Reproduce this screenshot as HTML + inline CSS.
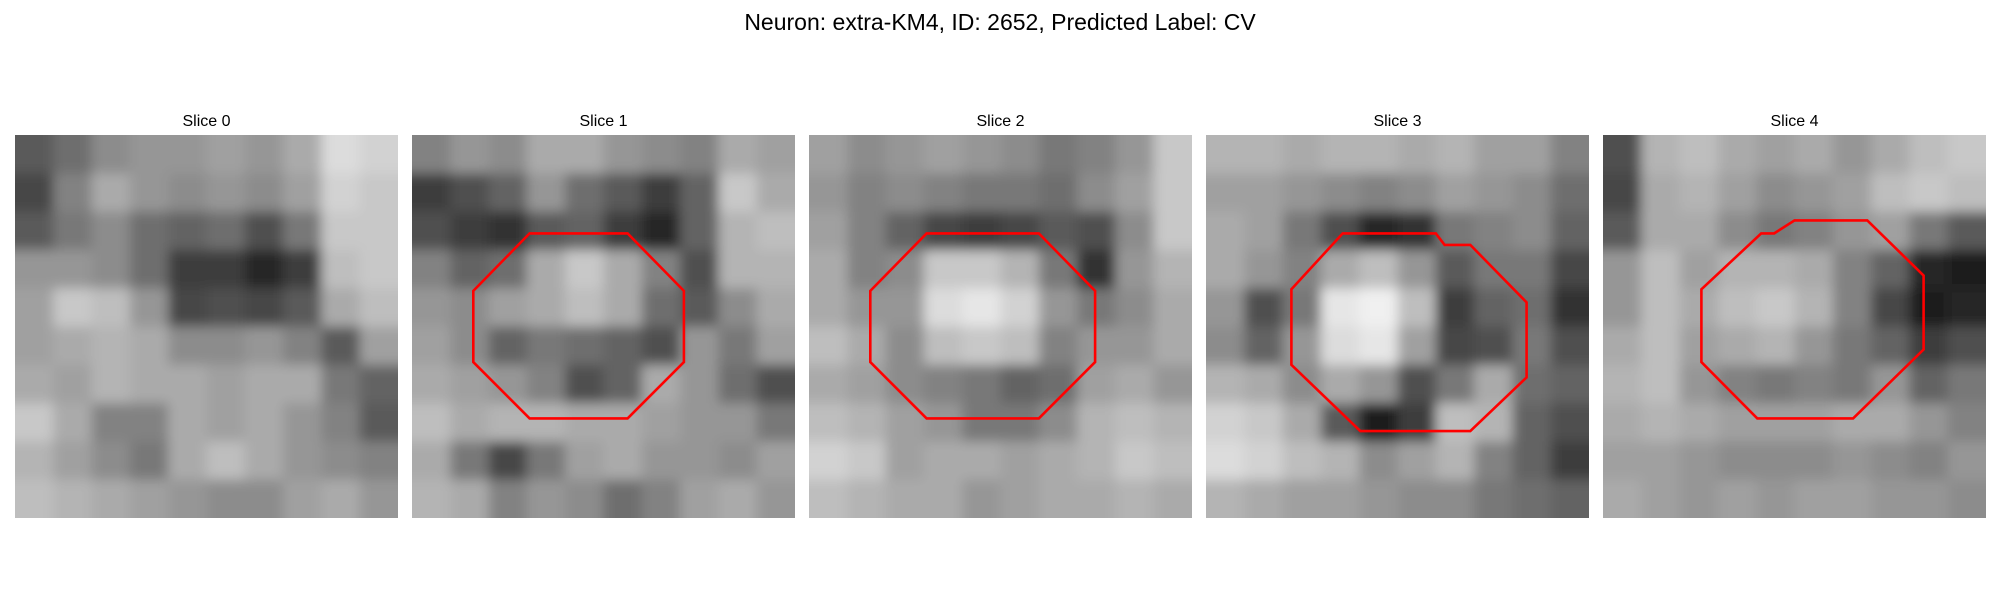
<!DOCTYPE html>
<html><head><meta charset="utf-8"><style>
html,body{margin:0;padding:0;background:#fff;width:2000px;height:600px;overflow:hidden}
svg{display:block;font-family:"Liberation Sans","DejaVu Sans",sans-serif}
</style></head><body>
<svg id="fig" width="2000" height="600" viewBox="0 0 2000 600">
<defs id="defs">
<filter id="bl" x="-0.2" y="-0.2" width="1.4" height="1.4"><feGaussianBlur stdDeviation="6"/></filter>
</defs>
<text x="1000" y="30" text-anchor="middle" font-size="23" fill="#000">Neuron: extra-KM4, ID: 2652, Predicted Label: CV</text>
<g id="panels"></g>
</svg>
<script>
const sliceTitles = ["Slice 0","Slice 1","Slice 2","Slice 3","Slice 4"];
const grid0 = [
[90,110,140,150,150,160,150,170,220,210],[70,130,170,150,140,150,140,160,210,200],[90,120,140,110,100,110,80,120,200,200],[150,150,140,110,60,60,40,60,190,200],[160,200,190,150,70,80,70,90,170,190],[160,170,180,170,140,140,150,130,90,160],[170,160,180,170,170,160,170,170,120,100],[200,170,130,130,170,160,170,150,130,90],[180,160,140,120,170,190,170,150,140,130],[190,180,170,160,150,140,140,160,170,150]];
const grid1 = [
[130,150,140,170,170,150,140,130,170,160],[60,80,100,150,110,90,60,100,200,170],[80,60,50,90,100,60,40,100,180,190],[130,100,110,170,200,170,130,80,180,180],[150,140,160,170,190,170,110,90,140,170],[160,140,100,120,110,100,80,150,120,160],[170,160,150,130,80,100,170,150,110,80],[190,170,180,180,170,170,160,150,150,120],[170,120,70,120,160,170,150,150,140,160],[180,170,130,150,140,110,130,160,170,150]];
const grid2 = [
[160,140,150,160,150,140,120,130,150,200],[150,130,140,130,120,120,110,140,160,200],[160,130,100,70,60,70,90,80,140,200],[170,130,140,200,200,180,120,50,150,180],[170,150,150,220,230,210,150,120,140,170],[190,170,140,190,200,190,130,150,150,170],[170,160,140,130,120,100,110,160,170,150],[190,180,160,150,120,120,140,180,190,180],[210,200,160,170,170,160,170,180,200,190],[190,180,170,170,150,160,170,170,180,170]];
const grid3 = [
[180,180,170,180,180,170,180,160,160,130],[160,160,150,140,130,140,160,150,140,110],[170,160,120,80,40,50,120,130,140,100],[170,150,130,170,190,150,90,120,120,70],[150,80,120,230,240,190,60,100,110,50],[140,100,150,220,230,160,70,80,120,80],[180,170,140,170,150,80,120,170,110,100],[210,200,170,90,30,60,190,180,100,80],[220,210,190,180,140,160,180,130,100,60],[180,170,160,160,150,140,140,120,110,100]];
const grid4 = [
[80,180,190,170,160,170,150,170,190,200],[70,170,180,160,140,150,160,190,200,190],[90,170,170,140,120,130,150,160,120,90],[150,190,160,180,180,170,130,100,40,30],[150,190,170,190,200,180,130,70,30,40],[170,190,160,170,180,150,120,100,60,80],[180,190,150,130,120,130,120,150,100,120],[170,180,170,160,160,160,170,170,150,130],[160,160,150,140,140,140,150,140,130,150],[170,160,150,160,150,160,160,150,150,140]];
const grids = [grid0,grid1,grid2,grid3,grid4];
const roi1 = [[.307,.257],[.563,.257],[.71,.407],[.71,.593],[.563,.74],[.307,.74],[.16,.593],[.16,.407]];
const roi2 = [[.307,.257],[.6,.257],[.747,.407],[.747,.593],[.6,.74],[.307,.74],[.16,.593],[.16,.407]];
const roi3 = [[.357,.257],[.6,.257],[.623,.287],[.69,.287],[.837,.437],[.837,.633],[.69,.773],[.403,.773],[.223,.6],[.223,.403]];
const roi4 = [[.413,.257],[.447,.257],[.5,.223],[.69,.223],[.837,.367],[.837,.56],[.653,.74],[.403,.74],[.257,.593],[.257,.403]];
const rois = [null,roi1,roi2,roi3,roi4];

const NS="http://www.w3.org/2000/svg";
const g=document.getElementById('panels');
const defs=document.getElementById('defs');
const X0=15, STEP=397, Y0=135, S=383, EXT=30;
grids.forEach((grid,p)=>{
  const px=X0+p*STEP;
  const cp=document.createElementNS(NS,'clipPath');
  cp.setAttribute('id','clip'+p);
  const cr=document.createElementNS(NS,'rect');
  cr.setAttribute('x',px);cr.setAttribute('y',Y0);cr.setAttribute('width',S);cr.setAttribute('height',S);
  cp.appendChild(cr);defs.appendChild(cp);
  const pg=document.createElementNS(NS,'g');
  
  
  const t=document.createElementNS(NS,'text');
  t.setAttribute('x',px+S/2);t.setAttribute('y',Y0-9);
  t.setAttribute('text-anchor','middle');t.setAttribute('font-size','16');
  t.textContent=sliceTitles[p];
  
  
  pg.appendChild(t);
  const clipG=document.createElementNS(NS,'g');
  clipG.setAttribute('clip-path','url(#clip'+p+')');
  const img=document.createElementNS(NS,'g');
  img.setAttribute('filter','url(#bl)');
  
  
  const n=grid.length, c=S/n;
  grid.forEach((row,r)=>row.forEach((v,k)=>{
    let x=px+k*c, y=Y0+r*c, w=c+0.5, h=c+0.5;
    if(k===0){x-=EXT;w+=EXT;}
    if(k===n-1){w+=EXT;}
    if(r===0){y-=EXT;h+=EXT;}
    if(r===n-1){h+=EXT;}
    const rc=document.createElementNS(NS,'rect');
    rc.setAttribute('x',x);rc.setAttribute('y',y);
    rc.setAttribute('width',w);rc.setAttribute('height',h);
    rc.setAttribute('fill',`rgb(${v},${v},${v})`);
    
    
    img.appendChild(rc);
  }));
  clipG.appendChild(img);
  pg.appendChild(clipG);
  const roi=rois[p];
  if(roi){
    const pl=document.createElementNS(NS,'polygon');
    pl.setAttribute('points',roi.map(([fx,fy])=>(px+fx*S).toFixed(1)+','+(Y0+fy*S).toFixed(1)).join(' '));
    pl.setAttribute('fill','none');pl.setAttribute('stroke','#f00');pl.setAttribute('stroke-width','2.6');
    
    
    pg.appendChild(pl);
  }
  g.appendChild(pg);
});
</script>
</body></html>
